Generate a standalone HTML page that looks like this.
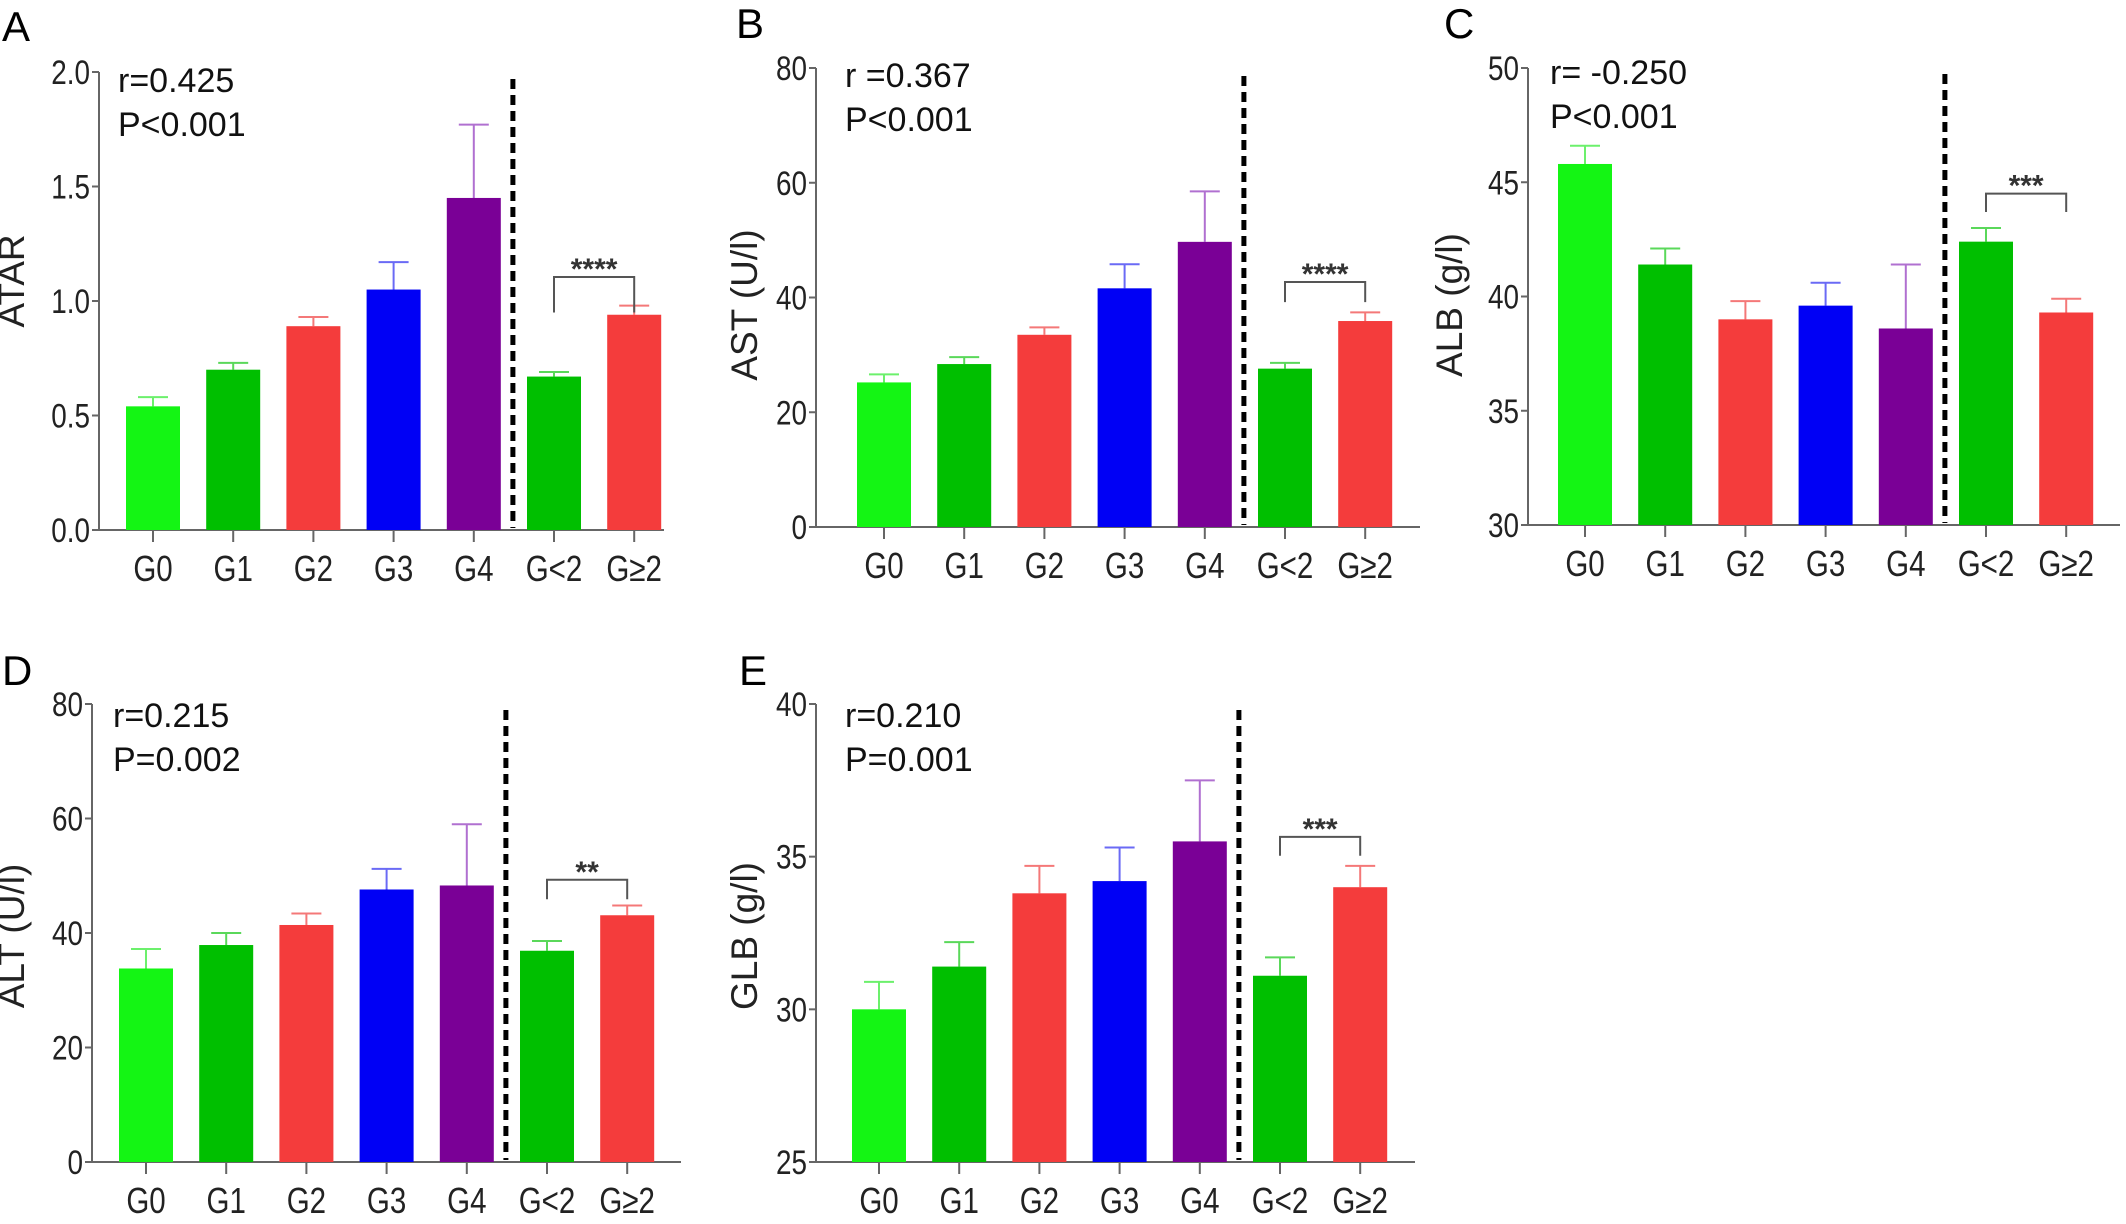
<!DOCTYPE html>
<html><head><meta charset="utf-8">
<style>
html,body{margin:0;padding:0;background:#fff;overflow:hidden;}
svg{display:block;}
.tick{font-family:"Liberation Sans",sans-serif;font-size:34px;fill:#222;}
.cat{font-family:"Liberation Sans",sans-serif;font-size:36px;fill:#222;}
.ann{font-family:"Liberation Sans",sans-serif;font-size:34px;fill:#111;}
.ttl{font-family:"Liberation Sans",sans-serif;font-size:37px;fill:#222;}
.lbl{font-family:"Liberation Sans",sans-serif;font-size:42px;fill:#000;}
.star{font-family:"Liberation Sans",sans-serif;font-size:30px;font-weight:bold;fill:#333;}
</style></head>
<body>
<svg id="fig" width="2126" height="1224" viewBox="0 0 2126 1224" xmlns="http://www.w3.org/2000/svg"></svg>
<script>
const categories = ["G0","G1","G2","G3","G4","G<2","G≥2"];
const colors = ["#14f514","#00bf00","#f43c3c","#0000f5","#7a0096","#00bf00","#f43c3c"];
const errColors = ["#6cf06c","#5ad85a","#f47878","#6a6af5","#b070d0","#5ad85a","#f47878"];

const atarValues = [0.54,0.70,0.89,1.05,1.45,0.67,0.94];
const atarErrors = [0.58,0.73,0.93,1.17,1.77,0.69,0.98];
const atarTicks = ["0.0","0.5","1.0","1.5","2.0"];
const astValues = [25.2,28.4,33.5,41.6,49.7,27.6,35.9];
const astErrors = [26.6,29.6,34.8,45.8,58.5,28.6,37.4];
const astTicks = ["0","20","40","60","80"];
const albValues = [45.8,41.4,39.0,39.6,38.6,42.4,39.3];
const albErrors = [46.6,42.1,39.8,40.6,41.4,43.0,39.9];
const albTicks = ["30","35","40","45","50"];
const altValues = [33.8,37.9,41.4,47.6,48.3,36.9,43.1];
const altErrors = [37.2,40.0,43.4,51.2,59.0,38.6,44.8];
const altTicks = ["0","20","40","60","80"];
const glbValues = [30.0,31.4,33.8,34.2,35.5,31.1,34.0];
const glbErrors = [30.9,32.2,34.7,35.3,37.5,31.7,34.7];
const glbTicks = ["25","30","35","40"];

const panels = [
 {id:"a",letter:"A",lx:2,ly:41,ax:99,y0:530,y1:72,xend:664,g0:153,min:0,max:2,ticks:atarTicks,vals:atarValues,errs:atarErrors,title:"ATAR",tx:24,ty:281,r:"r=0.425",p:"P<0.001",rx:118,ry:92,dashTop:79,brY:1.105,brLeg:0.95,stars:"****"},
 {id:"b",letter:"B",lx:736,ly:38,ax:816,y0:527,y1:68,xend:1420,g0:884,min:0,max:80,ticks:astTicks,vals:astValues,errs:astErrors,title:"AST (U/l)",tx:757,ty:305,r:"r =0.367",p:"P<0.001",rx:845,ry:87,dashTop:76,brY:42.7,brLeg:39.2,stars:"****"},
 {id:"c",letter:"C",lx:1444,ly:38,ax:1528,y0:525,y1:68,xend:2120,g0:1585,min:30,max:50,ticks:albTicks,vals:albValues,errs:albErrors,title:"ALB (g/l)",tx:1462,ty:305,r:"r= -0.250",p:"P<0.001",rx:1550,ry:84,dashTop:74,brY:44.5,brLeg:43.7,stars:"***"},
 {id:"d",letter:"D",lx:2,ly:685,ax:92,y0:1162,y1:704,xend:681,g0:146,min:0,max:80,ticks:altTicks,vals:altValues,errs:altErrors,title:"ALT (U/l)",tx:24,ty:936,r:"r=0.215",p:"P=0.002",rx:113,ry:727,dashTop:710,brY:49.3,brLeg:45.9,stars:"**"},
 {id:"e",letter:"E",lx:739,ly:685,ax:816,y0:1162,y1:704,xend:1415,g0:879,min:25,max:40,ticks:glbTicks,vals:glbValues,errs:glbErrors,title:"GLB (g/l)",tx:757,ty:936,r:"r=0.210",p:"P=0.001",rx:845,ry:727,dashTop:710,brY:35.65,brLeg:35.03,stars:"***"}
];

const svg = document.getElementById('fig');
const NS = "http://www.w3.org/2000/svg";
function mk(tag, attrs, parent){
  const e = document.createElementNS(NS, tag);
  for (const k in attrs) e.setAttribute(k, attrs[k]);
  (parent||svg).appendChild(e);
  return e;
}

panels.forEach(P => {
  const g = mk('g', {});
  
  
  const yS = v => P.y0 - (v - P.min) / (P.max - P.min) * (P.y0 - P.y1);
  const xS = i => P.g0 + i * 80.2;
  const step = (P.max - P.min) / (P.ticks.length - 1);

  const L = mk('text', {x:P.lx, y:P.ly, class:'lbl'}, g); L.textContent = P.letter;
  
  

  const ya = mk('line', {x1:P.ax, y1:P.y1, x2:P.ax, y2:P.y0, stroke:'#666', 'stroke-width':2}, g);
  
  
  P.ticks.forEach((t, k) => {
    const yy = yS(P.min + k * step);
    mk('line', {x1:P.ax - 7, y1:yy, x2:P.ax, y2:yy, stroke:'#666', 'stroke-width':2}, g);
    const tt = mk('text', {x:0, y:0, class:'tick', 'text-anchor':'end', transform:`translate(${P.ax - 9} ${yy + 12}) scale(0.82 1)`}, g);
    tt.textContent = t;
    
    
  });
  const xa = mk('line', {x1:P.ax, y1:P.y0, x2:P.xend, y2:P.y0, stroke:'#666', 'stroke-width':2}, g);
  
  

  const ti = mk('text', {x:P.tx, y:P.ty, class:'ttl', 'text-anchor':'middle', transform:`rotate(-90 ${P.tx} ${P.ty})`}, g);
  ti.textContent = P.title;
  
  

  const a1 = mk('text', {x:P.rx, y:P.ry, class:'ann'}, g); a1.textContent = P.r;
  
  
  const a2 = mk('text', {x:P.rx, y:P.ry + 44, class:'ann'}, g); a2.textContent = P.p;
  
  

  categories.forEach((c, i) => {
    const cx = xS(i);
    const top = yS(P.vals[i]), et = yS(P.errs[i]);
    mk('line', {x1:cx, y1:top, x2:cx, y2:et, stroke:errColors[i], 'stroke-width':2}, g);
    mk('line', {x1:cx - 15, y1:et, x2:cx + 15, y2:et, stroke:errColors[i], 'stroke-width':2}, g);
    const b = mk('rect', {x:cx - 27, y:top, width:54, height:P.y0 - top, fill:colors[i]}, g);
    
    
    mk('line', {x1:cx, y1:P.y0, x2:cx, y2:P.y0 + 12, stroke:'#666', 'stroke-width':2}, g);
    const xl = mk('text', {x:0, y:0, class:'cat', 'text-anchor':'middle', transform:`translate(${cx} ${P.y0 + 51}) scale(0.82 1)`}, g);
    xl.textContent = c;
    
    
  });

  const dx = (xS(4) + xS(5)) / 2 - 1;
  const dl = mk('line', {x1:dx, y1:P.dashTop, x2:dx, y2:P.y0 - 2, stroke:'#000', 'stroke-width':5, 'stroke-dasharray':'10 6'}, g);
  
  

  const bx1 = xS(5), bx2 = xS(6), by = yS(P.brY), bl = yS(P.brLeg);
  const br = mk('path', {d:`M${bx1} ${bl} V${by} H${bx2} V${bl}`, fill:'none', stroke:'#555', 'stroke-width':2}, g);
  
  
  const st = mk('text', {x:(bx1 + bx2) / 2, y:by + 2, class:'star', 'text-anchor':'middle'}, g);
  st.textContent = P.stars;
  
  
});
</script>
</body></html>
